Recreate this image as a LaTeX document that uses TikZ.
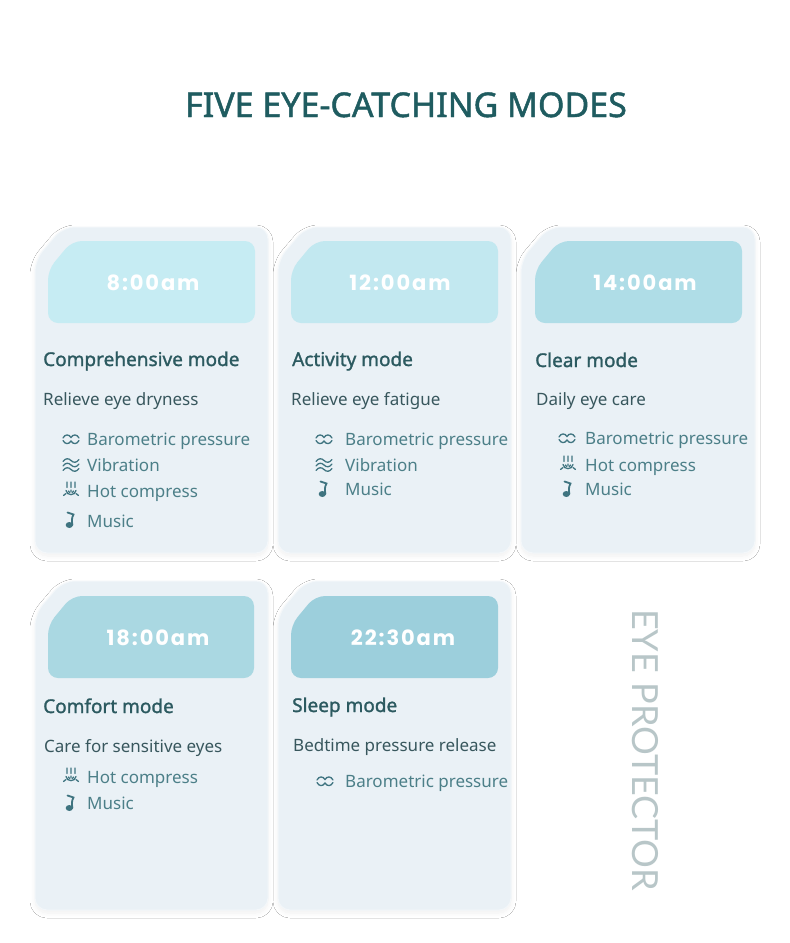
\documentclass[tikz,border=0pt]{standalone}
\usepackage{fontspec}
\setmainfont{Noto Sans}
\newfontfamily\semifont{Noto Sans}[FakeBold=1.4]
\newfontfamily\timefont{Poppins}[LetterSpace=9]
\newfontfamily\thinfont{Lato}
\usepackage{tikz}
\usetikzlibrary{shadows.blur}

\definecolor{titleteal}{HTML}{1F5C60}
\definecolor{modeteal}{HTML}{2C5A60}
\definecolor{subgray}{HTML}{38575D}
\definecolor{featteal}{HTML}{4C7F88}
\definecolor{iconteal}{HTML}{3F7480}
\definecolor{cardbg}{HTML}{EAF1F6}
\definecolor{cardrim}{HTML}{F3F7FA}
\definecolor{badgea}{HTML}{C6ECF3}
\definecolor{badgeb}{HTML}{C2E8F0}
\definecolor{badgec}{HTML}{AFDDE7}
\definecolor{badged}{HTML}{AAD8E2}
\definecolor{badgee}{HTML}{9CCFDC}
\definecolor{sidegray}{HTML}{B8C6C8}

\begin{document}
\begin{tikzpicture}[x=1pt,y=-1pt,
		baro/.pic={\draw[iconline] (0,-1) .. controls (2,-5) and (6,-5) .. (8,-1.5) .. controls (10,-5) and (14,-5) .. (16,-1);
			\draw[iconline] (0,1.5) .. controls (2,5.5) and (6,5.5) .. (8,2) .. controls (10,5.5) and (14,5.5) .. (16,1.5);},
		vibra/.pic={\foreach \yy in {-4.5,0,4.5}
			\draw[iconline] (0,\yy+1) .. controls (2.5,\yy-2.5) and (5.5,\yy-2.5) .. (8,\yy) .. controls (10.5,\yy+2.5) and (13.5,\yy+2.5) .. (16,\yy-1);},
		steam/.pic={\foreach \xx in {4,8,12}
			\draw[iconline] (\xx,-8) .. controls (\xx+1.5,-6.5) and (\xx-1.5,-4.5) .. (\xx,-2.5);
			\draw[iconline] (3,0.5) .. controls (4,6) and (12,6) .. (13,0.5);
			\draw[iconline] (0.5,5.5) -- (3,3.5) (15.5,5.5) -- (13,3.5) (8,0) -- (8,2) (5.5,1) -- (6.5,2.5) (10.5,1) -- (9.5,2.5);},
		note/.pic={\fill[iconteal] (4.3,5) ellipse (3.6 and 3);
			\draw[iconline,line width=1.8pt] (2.5,-7.5) -- (8.5,-5.5) .. controls (6.5,-2) and (6.8,1) .. (7.4,5);}]
			\tikzstyle{every node}+=[inner sep=0pt]
			\tikzstyle{iconline}=[iconteal, line width=1.3pt, line cap=round]
			\tikzstyle{card}=[fill=cardbg, draw=cardrim, line width=1pt, rounded corners=12pt,
				blur shadow={shadow blur steps=8, shadow xshift=0pt, shadow yshift=-3pt, shadow opacity=6, shadow blur radius=5pt}]
			\tikzstyle{badge}=[rounded corners=10pt]
			\tikzstyle{time}=[font=\timefont\bfseries\fontsize{21}{21}\selectfont, text=white]
			\tikzstyle{mode}=[font=\semifont\fontsize{19}{20}\selectfont, text=modeteal, anchor=base west]
			\tikzstyle{aim}=[font=\fontsize{17}{18}\selectfont, text=subgray, anchor=base west]
			\tikzstyle{feat}=[font=\fontsize{17}{18}\selectfont, text=featteal, anchor=base west]
			\fill [white] (0,0) rectangle (790,943);
			\useasboundingbox (0,0) rectangle (790,943);
			\node [font=\semifont\fontsize{34}{36}\selectfont, text=titleteal, anchor=base] (title) at (406,117) {FIVE EYE-CATCHING MODES};
			% cards, top row
			\draw [card] (35,260) -- (63,227) -- (268,227) -- (268,553) -- (35,553) -- cycle;
			\draw [card] (278,260) -- (306,227) -- (511,227) -- (511,553) -- (278,553) -- cycle;
			\draw [card] (521,260) -- (549,227) -- (755,227) -- (755,553) -- (521,553) -- cycle;
			% cards, bottom row
			\draw [card] (35,614) -- (63,581) -- (268,581) -- (268,910) -- (35,910) -- cycle;
			\draw [card] (278,614) -- (306,581) -- (511,581) -- (511,910) -- (278,910) -- cycle;
			% time badges
			\fill [badge, badgea] (48,270) -- (72,241) -- (255,241) -- (255,323) -- (48,323) -- cycle;
			\fill [badge, badgeb] (291,270) -- (315,241) -- (498,241) -- (498,323) -- (291,323) -- cycle;
			\fill [badge, badgec] (535,270) -- (559,241) -- (742,241) -- (742,323) -- (535,323) -- cycle;
			\fill [badge, badged] (48,625) -- (72,596) -- (254,596) -- (254,678) -- (48,678) -- cycle;
			\fill [badge, badgee] (291,625) -- (315,596) -- (498,596) -- (498,678) -- (291,678) -- cycle;
			\node [time] (t1) at (153,283) {8:00am};
			\node [time] (t2) at (400,283) {12:00am};
			\node [time] (t3) at (645,283) {14:00am};
			\node [time] (t4) at (158,638) {18:00am};
			\node [time] (t5) at (403,638) {22:30am};
			% card 1
			\node [mode] (m1) at (43,366) {Comprehensive mode};
			\node [aim] (a1) at (43,405) {Relieve eye dryness};
			\pic at (63,439) {baro};
			\node [feat] (f1a) at (87,445) {Barometric pressure};
			\pic at (63,465) {vibra};
			\node [feat] (f1b) at (87,471) {Vibration};
			\pic at (63,490) {steam};
			\node [feat] (f1c) at (87,497) {Hot compress};
			\pic at (65,520) {note};
			\node [feat] (f1d) at (87,527) {Music};
			% card 2
			\node [mode] (m2) at (292,366) {Activity mode};
			\node [aim] (a2) at (291,405) {Relieve eye fatigue};
			\pic at (316,439) {baro};
			\node [feat] (f2a) at (345,445) {Barometric pressure};
			\pic at (316,465) {vibra};
			\node [feat] (f2b) at (345,471) {Vibration};
			\pic at (318,489) {note};
			\node [feat] (f2c) at (345,495) {Music};
			% card 3
			\node [mode] (m3) at (535,367) {Clear mode};
			\node [aim] (a3) at (536,405) {Daily eye care};
			\pic at (559,438) {baro};
			\node [feat] (f3a) at (585,444) {Barometric pressure};
			\pic at (560,464) {steam};
			\node [feat] (f3b) at (585,471) {Hot compress};
			\pic at (562,489) {note};
			\node [feat] (f3c) at (585,495) {Music};
			% card 4
			\node [mode] (m4) at (43,713) {Comfort mode};
			\node [aim] (a4) at (44,752) {Care for sensitive eyes};
			\pic at (63,776) {steam};
			\node [feat] (f4a) at (87,783) {Hot compress};
			\pic at (65,803) {note};
			\node [feat] (f4b) at (87,809) {Music};
			% card 5
			\node [mode] (m5) at (292,712) {Sleep mode};
			\node [aim] (a5) at (293,751) {Bedtime pressure release};
			\pic at (317,781) {baro};
			\node [feat] (f5a) at (345,787) {Barometric pressure};
			% side label
			\node [font=\thinfont\fontsize{36}{36}\selectfont, text=sidegray, rotate=-90] (side) at (645,750) {EYE PROTECTOR};
\end{tikzpicture}
\end{document}
